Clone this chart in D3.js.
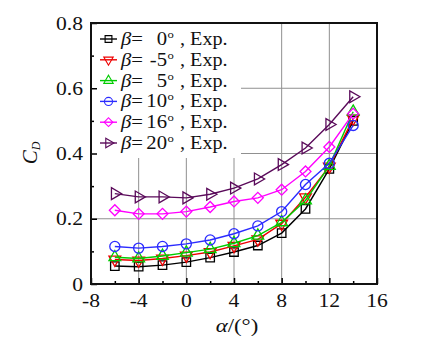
<!DOCTYPE html>
<html lang="en">
<head>
<meta charset="UTF-8">
<title>CD vs alpha</title>
<script src="https://d3js.org/d3.v7.min.js"></script>
<style>
  body { margin: 0; background: #fff; }
  text { font-family: "Liberation Serif", "Times New Roman", serif; fill: #111; }
</style>
</head>
<body>
<script>
  // data
  var alpha = [-6, -4, -2, 0, 2, 4, 6, 8, 10, 12, 14];
  var cd_b0 = [0.055, 0.053, 0.058, 0.067, 0.081, 0.098, 0.118, 0.156, 0.230, 0.353, 0.500];
  var cd_bm5 = [0.075, 0.072, 0.078, 0.087, 0.098, 0.117, 0.137, 0.185, 0.266, 0.360, 0.507];
  var cd_b5 = [0.082, 0.078, 0.086, 0.096, 0.107, 0.125, 0.148, 0.189, 0.256, 0.362, 0.528];
  var cd_b10 = [0.115, 0.110, 0.115, 0.123, 0.135, 0.154, 0.178, 0.222, 0.305, 0.370, 0.486];
  var cd_b16 = [0.226, 0.215, 0.215, 0.222, 0.236, 0.253, 0.264, 0.289, 0.345, 0.420, 0.522];
  var cd_b20 = [0.277, 0.267, 0.267, 0.264, 0.275, 0.294, 0.322, 0.366, 0.417, 0.489, 0.574];
  var betaLabels = ["0", "-5", "5", "10", "16", "20"];
  var xTicks = [-8, -4, 0, 4, 8, 12, 16];
  var yTicks = [0, 0.2, 0.4, 0.6, 0.8];

  var series = [
    { label: betaLabels[0], values: cd_b0, color: "#000000", shape: "square" },
    { label: betaLabels[1], values: cd_bm5, color: "#ee0000", shape: "down" },
    { label: betaLabels[2], values: cd_b5, color: "#00cc00", shape: "up" },
    { label: betaLabels[3], values: cd_b10, color: "#2b2bff", shape: "circle" },
    { label: betaLabels[4], values: cd_b16, color: "#ff00ff", shape: "diamond" },
    { label: betaLabels[5], values: cd_b20, color: "#5a0a5a", shape: "right" }
  ];

  var W = 431, H = 339;
  var pL = 91, pR = 377, pT = 23, pB = 284;
  var SX = 1.2; // the original lettering is a bit wide

  var x = d3.scaleLinear().domain([-8, 16]).range([pL, pR]);
  var y = d3.scaleLinear().domain([0, 0.8]).range([pB, pT]);

  var svg = d3.select("body").append("svg")
    .attr("width", W)
    .attr("height", H);

  function label(parent, tx, ty, size, anchor, sx) {
    return parent.append("text")
      .attr("transform", "translate(" + tx + "," + ty + ") scale(" + (sx || SX) + ",1)")
      .attr("font-size", size)
      .attr("text-anchor", anchor || "start");
  }

  // grid
  var grid = svg.append("g").attr("stroke", "#909090").attr("stroke-width", 1);
  grid.selectAll("line.v").data(xTicks.slice(1, -1)).enter().append("line")
    .attr("x1", d => x(d)).attr("x2", d => x(d))
    .attr("y1", pT).attr("y2", pB);
  grid.selectAll("line.h").data(yTicks.slice(1, -1)).enter().append("line")
    .attr("x1", pL).attr("x2", pR)
    .attr("y1", d => y(d)).attr("y2", d => y(d));

  // legend background hides grid
  svg.append("rect")
    .attr("x", pL + 1).attr("y", pT + 1)
    .attr("width", 149).attr("height", 134)
    .attr("fill", "#fff");

  // axes with inward ticks
  var xAxis = d3.axisBottom(x).tickValues(d3.range(-8, 17, 2)).tickSize(-5).tickFormat("");
  var gx = svg.append("g").attr("transform", "translate(0," + pB + ")").call(xAxis);
  gx.selectAll(".tick line").attr("y2", d => (d % 4 === 0 ? -6 : -3)).attr("stroke-width", 1.5);
  gx.select(".domain").remove();

  var yAxis = d3.axisLeft(y).tickValues(d3.range(0, 0.81, 0.1)).tickSize(-5).tickFormat("");
  var gy = svg.append("g").attr("transform", "translate(" + pL + ",0)").call(yAxis);
  gy.selectAll(".tick line").attr("x2", (d, i) => (i % 2 === 0 ? 6 : 3)).attr("stroke-width", 1.5);
  gy.select(".domain").remove();

  xTicks.forEach(function (d) {
    label(svg, x(d), 307, 18, "middle").text(d);
  });
  yTicks.forEach(function (d) {
    label(svg, 83, y(d) + 6.5, 18, "end").text(d === 0 ? "0" : d.toFixed(1));
  });

  // frame
  svg.append("rect")
    .attr("x", pL).attr("y", pT)
    .attr("width", pR - pL).attr("height", pB - pT)
    .attr("fill", "none").attr("stroke", "#111").attr("stroke-width", 2);

  // axis titles
  var xt = label(svg, 237, 332, 19, "middle");
  xt.append("tspan").attr("font-style", "italic").text("α");
  xt.append("tspan").text("/(°)");

  var yt = svg.append("text")
    .attr("transform", "translate(37,153) rotate(-90)")
    .attr("text-anchor", "middle").attr("font-size", 21).attr("font-style", "italic");
  yt.append("tspan").text("C");
  yt.append("tspan").attr("font-size", 12).attr("dy", 3).text("D");

  function symbolPath(shape) {
    if (shape === "square") return d3.symbol(d3.symbolSquare, 72)();
    if (shape === "circle") return d3.symbol(d3.symbolCircle, 80)();
    if (shape === "diamond") return d3.symbol(d3.symbolSquare, 60)();
    return d3.symbol(d3.symbolTriangle, 60)();
  }
  function symbolRotate(shape) {
    if (shape === "down") return 180;
    if (shape === "right") return 90;
    if (shape === "diamond") return 45;
    return 0;
  }

  var line = d3.line().x((d, i) => x(alpha[i])).y(d => y(d));

  series.forEach(function (s) {
    var g = svg.append("g");
    g.append("path").datum(s.values)
      .attr("d", line)
      .attr("fill", "none").attr("stroke", s.color).attr("stroke-width", 1.4);
    g.selectAll("path.m").data(s.values).enter().append("path")
      .attr("d", symbolPath(s.shape))
      .attr("transform", (d, i) => "translate(" + x(alpha[i]) + "," + y(d) + ") rotate(" + symbolRotate(s.shape) + ")")
      .attr("fill", "none").attr("stroke", s.color).attr("stroke-width", 1.3);
  });

  // legend
  var lg = svg.append("g");
  series.forEach(function (s, i) {
    var ly = 39 + i * 20.8;
    lg.append("line").attr("x1", 100).attr("x2", 117).attr("y1", ly).attr("y2", ly)
      .attr("stroke", s.color).attr("stroke-width", 1.4);
    lg.append("path").attr("d", symbolPath(s.shape))
      .attr("transform", "translate(108.5," + ly + ") rotate(" + symbolRotate(s.shape) + ") scale(0.8)")
      .attr("fill", "none").attr("stroke", s.color).attr("stroke-width", 1.4);
    var t = label(lg, 121, ly + 6, 18, "start", 1.15);
    t.append("tspan").attr("font-style", "italic").text("β");
    t.append("tspan").text("=");
    label(lg, 167, ly + 6, 18, "end", 1.15).text(s.label);
    label(lg, 167.5, ly - 1, 11, "start", 1.15).text("o");
    label(lg, 180, ly + 6, 18, "start", 1.12).text(", Exp.");
  });
</script>
</body>
</html>
